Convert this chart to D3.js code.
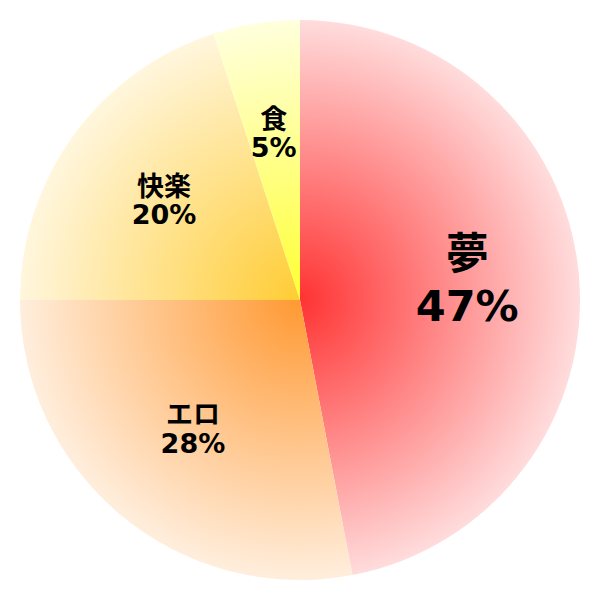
<!DOCTYPE html>
<html>
<head>
<meta charset="utf-8">
<script src="https://cdn.jsdelivr.net/npm/d3@7"></script>
<style>
  html, body { margin: 0; padding: 0; background: #fff; }
  text { font-family: "DejaVu Sans", "Noto Sans CJK JP", sans-serif; font-weight: bold; }
</style>
</head>
<body>
<div id="diagram"></div>
<script>
!(function () {
  // - - - - - - - - - -

  const categories = ['夢', 'エロ', '快楽', '食'];
  const values = [47, 28, 20, 5];
  const labels = ['47%', '28%', '20%', '5%'];
  const centerColors = ['#ff3333', '#ff9933', '#ffcc33', '#ffff33'];
  const edgeColors = ['#ffdcdc', '#ffeedd', '#fff6dd', '#ffffdd'];
  const fontSizes = [43, 27, 27, 27];

  let
    width = 600,
    height = 600,
    radius = 280;

  const svg = d3.select('#diagram')
    .append('svg')
    .attr('width', width)
    .attr('height', height)
    .attr('viewBox', '0 0 ' + width + ' ' + height);

  const defs = svg.append('defs');
  categories.forEach(function (c, i) {
    const g = defs.append('radialGradient')
      .attr('id', 'grad' + i)
      .attr('gradientUnits', 'userSpaceOnUse')
      .attr('cx', 0).attr('cy', 0).attr('r', radius);
    g.append('stop').attr('offset', '0%').attr('stop-color', centerColors[i]);
    g.append('stop').attr('offset', '100%').attr('stop-color', edgeColors[i]);
  });

  const pie = d3.pie().sort(null).value(function (d) { return d; });
  const arc = d3.arc().innerRadius(0).outerRadius(radius);
  const labelArc = d3.arc().innerRadius(radius * 0.6).outerRadius(radius * 0.6);

  const g = svg.append('g')
    .attr('transform', 'translate(' + width / 2 + ',' + height / 2 + ')');

  const arcs = pie(values);

  g.selectAll('path')
    .data(arcs)
    .enter()
    .append('path')
    .attr('d', arc)
    .style('fill', function (d, i) { return 'url(#grad' + i + ')'; });

  const lbl = g.selectAll('text')
    .data(arcs)
    .enter()
    .append('text')
    .attr('text-anchor', 'middle')
    .attr('transform', function (d) { return 'translate(' + labelArc.centroid(d) + ')'; })
    .style('font-size', function (d, i) { return fontSizes[i] + 'px'; });

  // big label sits a bit higher
  lbl.append('tspan')
    .attr('x', 0)
    .attr('y', function (d, i) { return fontSizes[i] > 30 ? '-0.36em' : '-0.2em'; })
    .text(function (d, i) { return categories[i]; });

  lbl.append('tspan')
    .attr('x', 0)
    .attr('y', '0.86em')
    .text(function (d, i) { return labels[i]; });

  // - - - - - - - - - -
}());
</script>
</body>
</html>
